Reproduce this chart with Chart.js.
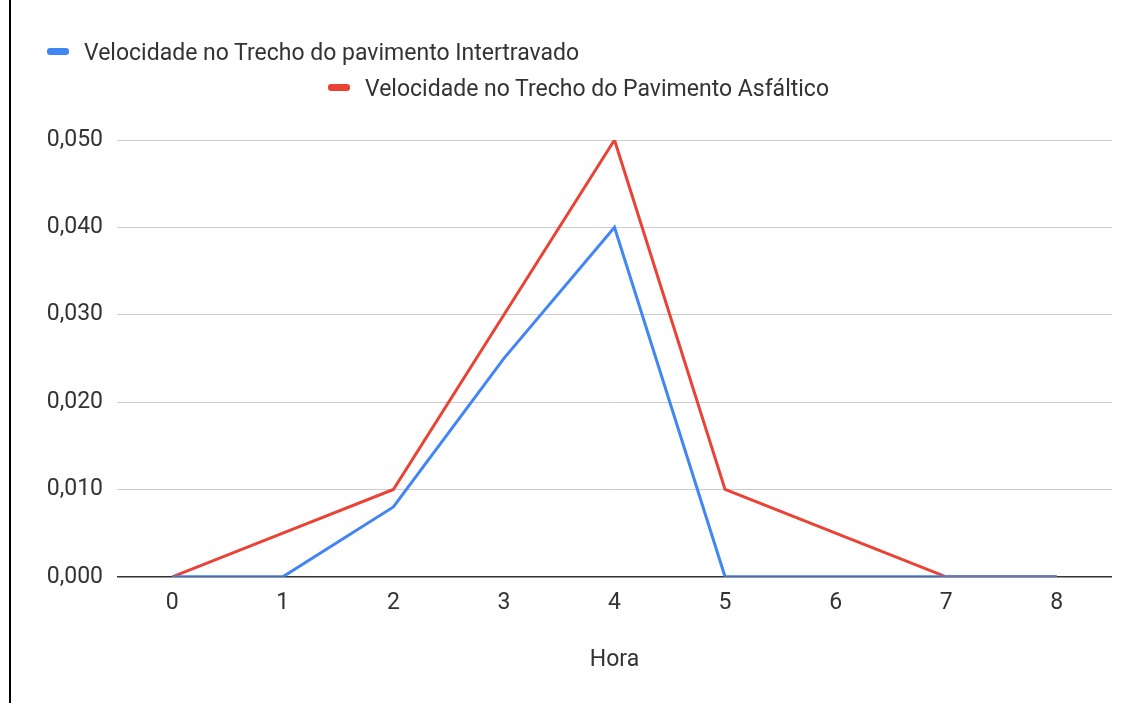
<!DOCTYPE html>
<html>
<head>
<meta charset="utf-8">
<script src="https://cdn.jsdelivr.net/npm/chart.js@4/dist/chart.umd.min.js"></script>
<style>
  body { margin: 0; background: #fff; font-family: Roboto, sans-serif; }
  #wrap { position: relative; width: 1142px; height: 706px; }
  #edge { position: absolute; left: 9px; top: 0; width: 2px; height: 703px; background: #000; }
  .leg { position: absolute; font-size: 23px; color: #333; white-space: nowrap; line-height: 24px; }
  .leg span.box { display: inline-block; width: 22px; height: 7px; border-radius: 3px; margin-right: 15px; vertical-align: middle; position: relative; top: -2px; }
  canvas { position: absolute; left: 0; top: 0; }
</style>
</head>
<body>
<div id="wrap">
  <canvas id="chart" width="1142" height="706"></canvas>
  <div id="edge"></div>
  <div class="leg" id="leg1" style="left:47px; top:41px;"></div>
  <div class="leg" id="leg2" style="left:328px; top:77px;"></div>
</div>
<script>
const horas = ['0', '1', '2', '3', '4', '5', '6', '7', '8'];
const intertravado = [0, 0, 0.008, 0.025, 0.04, 0, 0, 0, 0];
const asfaltico = [0, 0.005, 0.01, 0.03, 0.05, 0.01, 0.005, 0, 0];
const seriesNames = ['Velocidade no Trecho do pavimento Intertravado', 'Velocidade no Trecho do Pavimento Asfáltico'];
const seriesColors = ['#4285f4', '#ea4335'];

// Legend as html, wrapped the way the original chart does it
['leg1', 'leg2'].forEach((id, i) => {
    const el = document.getElementById(id);
    el.innerHTML = `<span class="box" style="background:${seriesColors[i]}"></span>${seriesNames[i]}`;
});

const ctx = document.getElementById('chart').getContext('2d');
new Chart(ctx, {
    type: 'line',
    data: {
        labels: horas,
        datasets: [
            { label: seriesNames[0], data: intertravado, borderColor: seriesColors[0], borderWidth: 3, pointRadius: 0, tension: 0 },
            { label: seriesNames[1], data: asfaltico, borderColor: seriesColors[1], borderWidth: 3, pointRadius: 0, tension: 0 }
        ]
    },
    options: {
        responsive: false,
        animation: false,
        layout: { padding: { top: 140, right: 30, bottom: 28, left: 0 } },
        plugins: { legend: { display: false }, tooltip: { enabled: false } },
        scales: {
            x: {
                offset: true,
                grid: { display: false },
                border: { display: false },
                ticks: { color: '#333', font: { family: 'Roboto', size: 23 }, padding: 5 },
                title: { display: true, text: 'Hora', color: '#333', font: { family: 'Roboto', size: 23 }, padding: { top: 24 } }
            },
            y: {
                min: 0,
                max: 0.05,
                afterFit: scale => { scale.width = 117; },
                grid: {
                    drawTicks: false,
                    color: c => c.tick.value === 0 ? '#333' : '#ccc',
                    lineWidth: c => c.tick.value === 0 ? 1.5 : 1
                },
                border: { display: false },
                ticks: {
                    stepSize: 0.01,
                    padding: 14,
                    color: '#333',
                    font: { family: 'Roboto', size: 23 },
                    callback: v => v.toFixed(3).replace('.', ',')
                }
            }
        }
    }
});
</script>
</body>
</html>
